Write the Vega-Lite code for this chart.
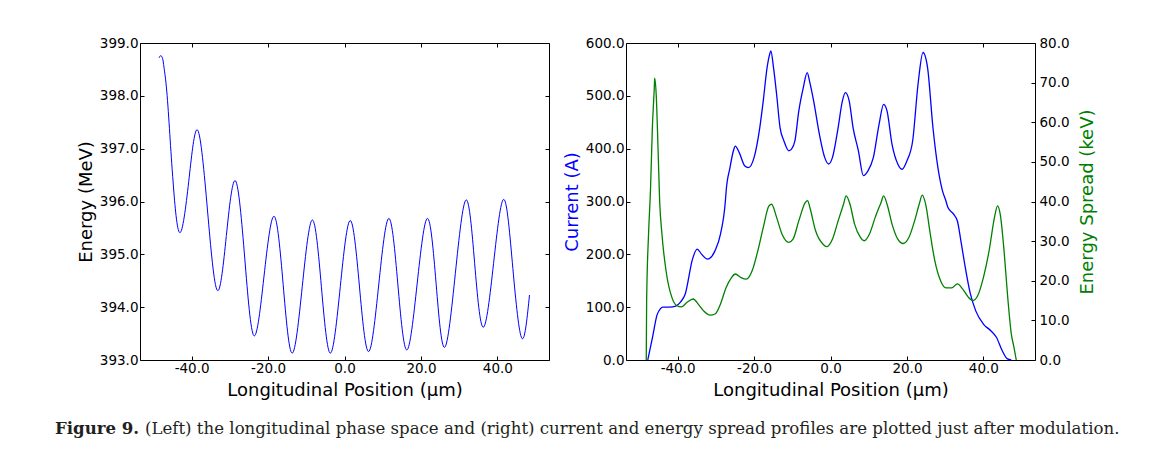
{
  "$schema": "https://vega.github.io/schema/vega-lite/v6.json",
  "background": "white",
  "padding": {"left": 55, "top": 35, "right": 5, "bottom": 5},
  "config": {
    "font": "DejaVu Sans",
    "view": {"stroke": "black", "strokeWidth": 1},
    "axis": {
      "grid": false,
      "domain": false,
      "tickColor": "black",
      "tickSize": -4,
      "tickWidth": 1,
      "labelColor": "black",
      "titleColor": "black",
      "labelFont": "DejaVu Sans",
      "titleFont": "DejaVu Sans",
      "labelFontSize": 13.5,
      "titleFontSize": 18,
      "titleFontWeight": "normal",
      "labelPadding": 6,
      "labelFlush": false,
      "labelOverlap": false
    },
    "axisBottom": {"labelPadding": 5, "titlePadding": 7},
    "axisRight": {"labelPadding": 8}
  },
  "datasets": {
    "energy": [
      {"pos": -48.5, "energy": 398.72},
      {"pos": -48.1, "energy": 398.76},
      {"pos": -47.6, "energy": 398.71},
      {"pos": -47.2, "energy": 398.53},
      {"pos": -46.5, "energy": 398.09},
      {"pos": -45.7, "energy": 397.27},
      {"pos": -44.8, "energy": 396.33},
      {"pos": -43.1, "energy": 395.41},
      {"pos": -40.75, "energy": 396.38},
      {"pos": -38.4, "energy": 397.35},
      {"pos": -35.85, "energy": 395.84},
      {"pos": -33.3, "energy": 394.32},
      {"pos": -30.9, "energy": 395.36},
      {"pos": -28.5, "energy": 396.39},
      {"pos": -26.1, "energy": 394.93},
      {"pos": -23.7, "energy": 393.46},
      {"pos": -21.05, "energy": 394.59},
      {"pos": -18.4, "energy": 395.72},
      {"pos": -16.05, "energy": 394.43},
      {"pos": -13.7, "energy": 393.13},
      {"pos": -11.05, "energy": 394.39},
      {"pos": -8.4, "energy": 395.65},
      {"pos": -6.05, "energy": 394.39},
      {"pos": -3.7, "energy": 393.13},
      {"pos": -1.1, "energy": 394.39},
      {"pos": 1.5, "energy": 395.64},
      {"pos": 3.9, "energy": 394.40},
      {"pos": 6.3, "energy": 393.16},
      {"pos": 8.95, "energy": 394.42},
      {"pos": 11.6, "energy": 395.68},
      {"pos": 13.95, "energy": 394.44},
      {"pos": 16.3, "energy": 393.19},
      {"pos": 19.0, "energy": 394.44},
      {"pos": 21.7, "energy": 395.68},
      {"pos": 23.95, "energy": 394.46},
      {"pos": 26.2, "energy": 393.24},
      {"pos": 29.0, "energy": 394.64},
      {"pos": 31.8, "energy": 396.03},
      {"pos": 34.05, "energy": 394.83},
      {"pos": 36.3, "energy": 393.62},
      {"pos": 39.0, "energy": 394.83},
      {"pos": 41.7, "energy": 396.04},
      {"pos": 44.05, "energy": 394.73},
      {"pos": 46.4, "energy": 393.41},
      {"pos": 48.4, "energy": 394.23}
    ],
    "current": [
      {"pos": -47.8, "current": 0},
      {"pos": -46.5, "current": 45},
      {"pos": -45.4, "current": 85},
      {"pos": -44.5, "current": 97},
      {"pos": -43.9, "current": 100},
      {"pos": -42.0, "current": 100},
      {"pos": -40.5, "current": 102},
      {"pos": -39.2, "current": 110},
      {"pos": -38.0, "current": 125},
      {"pos": -36.1, "current": 191},
      {"pos": -34.9, "current": 210},
      {"pos": -33.7, "current": 200},
      {"pos": -32.2, "current": 191},
      {"pos": -31.2, "current": 195},
      {"pos": -30.2, "current": 207},
      {"pos": -28.8, "current": 238},
      {"pos": -27.5, "current": 301},
      {"pos": -27.3, "current": 320},
      {"pos": -26.3, "current": 364},
      {"pos": -25.4, "current": 396},
      {"pos": -24.9, "current": 405},
      {"pos": -23.9, "current": 393},
      {"pos": -22.4, "current": 367},
      {"pos": -21.5, "current": 364},
      {"pos": -20.0, "current": 383},
      {"pos": -18.5, "current": 440},
      {"pos": -17.6, "current": 490},
      {"pos": -16.6, "current": 553},
      {"pos": -15.9, "current": 579},
      {"pos": -15.6, "current": 585},
      {"pos": -14.9, "current": 553},
      {"pos": -14.1, "current": 503},
      {"pos": -13.2, "current": 440},
      {"pos": -12.2, "current": 415},
      {"pos": -10.9, "current": 396},
      {"pos": -10.2, "current": 399},
      {"pos": -9.3, "current": 415},
      {"pos": -8.3, "current": 471},
      {"pos": -7.1, "current": 516},
      {"pos": -6.1, "current": 544},
      {"pos": -5.4, "current": 525},
      {"pos": -4.4, "current": 490},
      {"pos": -2.9, "current": 427},
      {"pos": -1.5, "current": 383},
      {"pos": -0.5, "current": 371},
      {"pos": 0.5, "current": 383},
      {"pos": 2.0, "current": 440},
      {"pos": 3.1, "current": 490},
      {"pos": 3.9, "current": 506},
      {"pos": 4.9, "current": 490},
      {"pos": 5.9, "current": 440},
      {"pos": 7.3, "current": 396},
      {"pos": 8.6, "current": 349},
      {"pos": 9.8, "current": 358},
      {"pos": 11.2, "current": 383},
      {"pos": 12.7, "current": 446},
      {"pos": 13.9, "current": 484},
      {"pos": 14.8, "current": 471},
      {"pos": 16.1, "current": 408},
      {"pos": 17.6, "current": 371},
      {"pos": 18.7, "current": 361},
      {"pos": 20.0, "current": 377},
      {"pos": 21.5, "current": 415},
      {"pos": 22.9, "current": 522},
      {"pos": 24.2, "current": 582},
      {"pos": 25.4, "current": 553},
      {"pos": 26.8, "current": 440},
      {"pos": 28.1, "current": 364},
      {"pos": 29.3, "current": 320},
      {"pos": 30.2, "current": 301},
      {"pos": 30.7, "current": 289},
      {"pos": 32.2, "current": 276},
      {"pos": 33.2, "current": 263},
      {"pos": 34.1, "current": 226},
      {"pos": 35.1, "current": 182},
      {"pos": 36.6, "current": 125},
      {"pos": 38.0, "current": 93},
      {"pos": 40.0, "current": 68},
      {"pos": 42.0, "current": 55},
      {"pos": 43.4, "current": 43},
      {"pos": 44.9, "current": 18},
      {"pos": 46.3, "current": 2},
      {"pos": 47.3, "current": 0}
    ],
    "spread": [
      {"pos": -48.2, "spread": 0},
      {"pos": -48.1, "spread": 15},
      {"pos": -47.6, "spread": 31.8},
      {"pos": -47.1, "spread": 42.7},
      {"pos": -46.6, "spread": 58.7},
      {"pos": -46.1, "spread": 68.7},
      {"pos": -46.0, "spread": 71.1},
      {"pos": -45.6, "spread": 67.0},
      {"pos": -45.1, "spread": 52.8},
      {"pos": -44.7, "spread": 40.2},
      {"pos": -44.1, "spread": 31.8},
      {"pos": -42.9, "spread": 21.7},
      {"pos": -41.5, "spread": 15.8},
      {"pos": -40.2, "spread": 13.7},
      {"pos": -39.0, "spread": 13.4},
      {"pos": -37.6, "spread": 14.5},
      {"pos": -35.9, "spread": 15.4},
      {"pos": -34.6, "spread": 14.1},
      {"pos": -33.2, "spread": 12.4},
      {"pos": -31.5, "spread": 11.3},
      {"pos": -30.2, "spread": 11.6},
      {"pos": -28.8, "spread": 14.1},
      {"pos": -27.3, "spread": 18.3},
      {"pos": -25.9, "spread": 20.8},
      {"pos": -24.9, "spread": 21.7},
      {"pos": -23.4, "spread": 20.8},
      {"pos": -22.0, "spread": 20.4},
      {"pos": -20.5, "spread": 22.5},
      {"pos": -19.0, "spread": 27.6},
      {"pos": -17.6, "spread": 33.4},
      {"pos": -16.1, "spread": 38.9},
      {"pos": -15.4, "spread": 39.3},
      {"pos": -14.1, "spread": 36.0},
      {"pos": -12.7, "spread": 31.8},
      {"pos": -10.9, "spread": 29.7},
      {"pos": -9.8, "spread": 30.5},
      {"pos": -8.3, "spread": 35.1},
      {"pos": -6.6, "spread": 39.7},
      {"pos": -6.0, "spread": 40.2},
      {"pos": -5.4, "spread": 38.5},
      {"pos": -3.9, "spread": 32.6},
      {"pos": -1.95, "spread": 29.2},
      {"pos": -1.0, "spread": 28.6},
      {"pos": 0.5, "spread": 30.5},
      {"pos": 2.0, "spread": 35.1},
      {"pos": 3.4, "spread": 39.3},
      {"pos": 4.1, "spread": 41.4},
      {"pos": 5.1, "spread": 39.3},
      {"pos": 6.3, "spread": 34.3},
      {"pos": 7.8, "spread": 31.0},
      {"pos": 8.8, "spread": 30.1},
      {"pos": 10.2, "spread": 31.8},
      {"pos": 11.7, "spread": 36.0},
      {"pos": 13.2, "spread": 39.7},
      {"pos": 13.9, "spread": 41.4},
      {"pos": 14.8, "spread": 39.3},
      {"pos": 16.1, "spread": 34.3},
      {"pos": 17.6, "spread": 30.5},
      {"pos": 19.0, "spread": 29.4},
      {"pos": 20.5, "spread": 30.9},
      {"pos": 22.0, "spread": 35.1},
      {"pos": 23.2, "spread": 39.3},
      {"pos": 24.0, "spread": 41.6},
      {"pos": 24.9, "spread": 39.3},
      {"pos": 26.1, "spread": 31.8},
      {"pos": 27.3, "spread": 25.0},
      {"pos": 28.8, "spread": 20.0},
      {"pos": 30.2, "spread": 18.2},
      {"pos": 31.7, "spread": 18.2},
      {"pos": 33.2, "spread": 19.2},
      {"pos": 34.6, "spread": 17.9},
      {"pos": 36.1, "spread": 15.8},
      {"pos": 37.3, "spread": 15.0},
      {"pos": 38.5, "spread": 16.2},
      {"pos": 40.0, "spread": 20.8},
      {"pos": 41.5, "spread": 27.6},
      {"pos": 42.9, "spread": 36.0},
      {"pos": 43.7, "spread": 38.9},
      {"pos": 44.4, "spread": 36.8},
      {"pos": 45.4, "spread": 27.6},
      {"pos": 46.3, "spread": 16.6},
      {"pos": 47.3, "spread": 6.6},
      {"pos": 48.0, "spread": 3.2},
      {"pos": 48.6, "spread": 0}
    ],
    "caption": [
      {"label": "Figure 9.", "text": "(Left) the longitudinal phase space and (right) current and energy spread profiles are plotted just after modulation."}
    ]
  },
  "vconcat": [
    {
      "hconcat": [
        {
          "width": 409,
          "height": 317,
          "data": {"name": "energy"},
          "layer": [
            {
              "mark": {"type": "line", "color": "#0000ff", "strokeWidth": 1, "interpolate": "natural"},
              "encoding": {
                "x": {"field": "pos", "type": "quantitative", "scale": {"domain": [-53.5, 53.5], "nice": false, "zero": false},
                      "axis": {"orient": "bottom", "values": [-40, -20, 0, 20, 40], "labelExpr": "replace(format(datum.value, '.1f'), '\u2212', '-')", "title": "Longitudinal Position (μm)"}},
                "y": {"field": "energy", "type": "quantitative", "scale": {"domain": [393, 399], "nice": false, "zero": false},
                      "axis": {"orient": "left", "values": [393, 394, 395, 396, 397, 398, 399], "format": ".1f", "title": "Energy (MeV)"}}
              }
            },
            {
              "mark": {"type": "line", "opacity": 0},
              "encoding": {
                "x": {"field": "pos", "type": "quantitative", "axis": {"orient": "top", "values": [-40, -20, 0, 20, 40], "labels": false, "title": null}},
                "y": {"field": "energy", "type": "quantitative", "axis": {"orient": "right", "values": [393, 394, 395, 396, 397, 398, 399], "labels": false, "title": null}}
              }
            }
          ],
          "resolve": {"axis": {"x": "independent", "y": "independent"}}
        },
        {
          "width": 409,
          "height": 317,
          "layer": [
            {
              "data": {"name": "current"},
              "mark": {"type": "line", "color": "#0000ff", "strokeWidth": 1.3, "interpolate": "monotone"},
              "encoding": {
                "x": {"field": "pos", "type": "quantitative", "scale": {"domain": [-53.5, 53.5], "nice": false, "zero": false},
                      "axis": {"orient": "bottom", "values": [-40, -20, 0, 20, 40], "labelExpr": "replace(format(datum.value, '.1f'), '\u2212', '-')", "title": "Longitudinal Position (μm)"}},
                "y": {"field": "current", "type": "quantitative", "scale": {"domain": [0, 600], "nice": false},
                      "axis": {"orient": "left", "values": [0, 100, 200, 300, 400, 500, 600], "format": ".1f", "title": "Current (A)", "titleColor": "#0000ff"}}
              }
            },
            {
              "data": {"name": "spread"},
              "mark": {"type": "line", "color": "#008000", "strokeWidth": 1.3, "interpolate": "monotone"},
              "encoding": {
                "x": {"field": "pos", "type": "quantitative", "axis": {"orient": "top", "values": [-40, -20, 0, 20, 40], "labels": false, "title": null}},
                "y": {"field": "spread", "type": "quantitative", "scale": {"domain": [0, 80], "nice": false},
                      "axis": {"orient": "right", "values": [0, 10, 20, 30, 40, 50, 60, 70, 80], "format": ".1f", "title": "Energy Spread (keV)", "titleColor": "#008000", "titleAngle": 270, "titleBaseline": "top", "titlePadding": 9}}
              }
            }
          ],
          "resolve": {"scale": {"y": "independent"}, "axis": {"x": "independent", "y": "independent"}}
        }
      ],
      "spacing": 12
    },
    {
      "width": 1100,
      "height": 24,
      "view": {"stroke": null},
      "data": {"name": "caption"},
      "layer": [
        {
          "mark": {"type": "text", "align": "left", "baseline": "middle", "font": "DejaVu Serif", "fontSize": 16.6, "fontWeight": "bold", "color": "#231f20", "dx": -85},
          "encoding": {"text": {"field": "label"}, "x": {"value": 0}, "y": {"value": 12}}
        },
        {
          "mark": {"type": "text", "align": "left", "baseline": "middle", "font": "DejaVu Serif", "fontSize": 16.6, "color": "#231f20", "dx": 5},
          "encoding": {"text": {"field": "text"}, "x": {"value": 0}, "y": {"value": 12}}
        }
      ]
    }
  ],
  "spacing": 17
}
